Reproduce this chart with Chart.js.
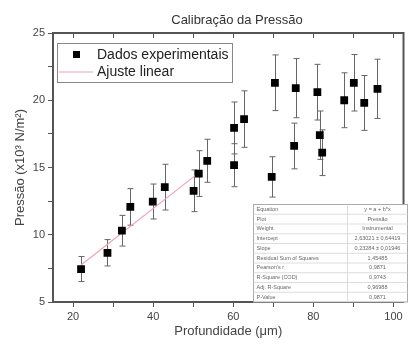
<!DOCTYPE html>
<html>
<head>
<meta charset="utf-8">
<script src="https://cdn.jsdelivr.net/npm/chart.js@4"></script>
<style>
  html, body { margin: 0; padding: 0; background: #fff; }
</style>
</head>
<body>
<canvas id="pressureChart" width="409" height="347"></canvas>
<script>
// data
const depth = [22.0, 28.6, 32.2, 34.3, 39.9, 42.9, 50.1, 51.4, 53.5, 60.2, 60.2, 62.7,
               69.6, 70.4, 75.2, 75.6, 81.0, 81.6, 82.2, 87.7, 90.1, 92.7, 96.0];
const pressure = [7.45, 8.66, 10.3, 12.07, 12.47, 13.54, 13.27, 14.55, 15.5, 17.94, 15.17, 18.6,
                  14.3, 21.3, 16.6, 20.9, 20.6, 17.4, 16.1, 20.0, 21.3, 19.8, 20.85];
const pressureErr = [0.93, 0.98, 1.14, 1.36, 1.3, 1.7, 1.55, 1.7, 1.6, 1.93, 1.6, 2.1,
                     1.5, 2.07, 1.7, 2.2, 2.07, 1.8, 1.7, 2.04, 2.1, 2.04, 2.2];
const fitX = [22, 52];
const fitY = [7.75, 14.75];

const tableRows = [
  ['Equation', 'y = a + b*x'],
  ['Plot', 'Pressão'],
  ['Weight', 'Instrumental'],
  ['Intercept', '2,63021 ± 0,64419'],
  ['Slope', '0,23284 ± 0,01946'],
  ['Residual Sum of Squares', '1,45485'],
  ["Pearson's r", '0,9871'],
  ['R-Square (COD)', '0,9743'],
  ['Adj. R-Square', '0,96988'],
  ['P-Value', '0,9871']
];

const axisColor = '#555';

const decorations = {
  id: 'decorations',
  beforeDatasetsDraw(chart) {
    const ctx = chart.ctx;
    const xs = chart.scales.x, ys = chart.scales.y;
    ctx.save();
    ctx.strokeStyle = '#666';
    ctx.lineWidth = 1;
    depth.forEach((d, i) => {
      const px = Math.round(xs.getPixelForValue(d)) + 0.5;
      const top = ys.getPixelForValue(pressure[i] + pressureErr[i]);
      const bot = ys.getPixelForValue(pressure[i] - pressureErr[i]);
      ctx.beginPath();
      ctx.moveTo(px, top); ctx.lineTo(px, bot);
      ctx.moveTo(px - 3, top); ctx.lineTo(px + 3, top);
      ctx.moveTo(px - 3, bot); ctx.lineTo(px + 3, bot);
      ctx.stroke();
    });
    ctx.restore();
  },
  afterDraw(chart) {
    const ctx = chart.ctx;
    const a = chart.chartArea;
    const xs = chart.scales.x;
    ctx.save();

    // title
    ctx.fillStyle = '#333';
    ctx.font = '13px "Liberation Sans", Arial, sans-serif';
    ctx.textAlign = 'center';
    ctx.textBaseline = 'middle';
    ctx.fillText('Calibração da Pressão', 237, 20);

    // top and right frame
    ctx.strokeStyle = axisColor;
    ctx.lineWidth = 2;
    ctx.beginPath();
    ctx.moveTo(a.left, a.top); ctx.lineTo(a.right, a.top); ctx.lineTo(a.right, a.bottom);
    ctx.stroke();
    ctx.lineWidth = 1;
    xs.ticks.forEach(t => {
      const px = Math.round(xs.getPixelForValue(t.value)) + 0.5;
      ctx.beginPath();
      ctx.moveTo(px, a.top); ctx.lineTo(px, a.top + 5);
      ctx.stroke();
    });

    // legend box
    ctx.fillStyle = '#fff';
    ctx.fillRect(57.5, 43.5, 175, 39);
    ctx.strokeStyle = '#888';
    ctx.lineWidth = 1;
    ctx.strokeRect(57.5, 43.5, 175, 39);
    ctx.fillStyle = '#000';
    ctx.fillRect(73, 51, 7, 7);
    ctx.strokeStyle = '#f0a3b5';
    ctx.lineWidth = 1.2;
    ctx.beginPath();
    ctx.moveTo(59, 72); ctx.lineTo(93, 72);
    ctx.stroke();
    ctx.fillStyle = '#222';
    ctx.font = '14px "Liberation Sans", Arial, sans-serif';
    ctx.textAlign = 'left';
    ctx.fillText('Dados experimentais', 97, 55);
    ctx.fillText('Ajuste linear', 97, 72);

    // fit results table
    const tx = 253.5, ty = 204.5, tw = 154, rh = 9.75, split = 347.5;
    ctx.fillStyle = '#fff';
    ctx.fillRect(tx, ty, tw, rh * tableRows.length);
    ctx.strokeStyle = '#aaa';
    ctx.lineWidth = 1;
    ctx.strokeRect(tx, ty, tw, rh * tableRows.length);
    ctx.beginPath();
    ctx.moveTo(split, ty); ctx.lineTo(split, ty + rh * tableRows.length);
    for (let i = 1; i < tableRows.length; i++) {
      ctx.moveTo(tx, ty + rh * i); ctx.lineTo(tx + tw, ty + rh * i);
    }
    ctx.strokeStyle = '#ddd';
    ctx.stroke();
    ctx.fillStyle = '#666';
    ctx.font = '5.5px "Liberation Sans", Arial, sans-serif';
    tableRows.forEach((r, i) => {
      const cy = ty + rh * i + rh / 2;
      ctx.textAlign = 'left';
      ctx.fillText(r[0], tx + 3, cy);
      ctx.textAlign = 'center';
      ctx.fillText(r[1], (split + tx + tw) / 2, cy);
    });
    ctx.restore();
  }
};

const ctx = document.getElementById('pressureChart').getContext('2d');
new Chart(ctx, {
  type: 'scatter',
  data: {
    datasets: [{
      label: 'Dados experimentais',
      data: depth.map((d, i) => ({ x: d, y: pressure[i] })),
      pointStyle: 'rect',
      pointRadius: 5.5,
      backgroundColor: '#000',
      borderColor: '#000',
      borderWidth: 0,
      order: 1
    }, {
      type: 'line',
      label: 'Ajuste linear',
      data: fitX.map((d, i) => ({ x: d, y: fitY[i] })),
      borderColor: '#f0a3b5',
      borderWidth: 1.2,
      pointRadius: 0,
      fill: false,
      order: 2
    }]
  },
  options: {
    responsive: false,
    animation: false,
    layout: { padding: { top: 33, right: 2, left: 0, bottom: 0 } },
    plugins: {
      legend: { display: false },
      tooltip: { enabled: false }
    },
    scales: {
      x: {
        type: 'linear',
        min: 15,
        max: 102.5,
        afterFit: s => { s.height = 45; },
        border: { color: axisColor, width: 2 },
        grid: { drawOnChartArea: false, drawTicks: true, tickLength: 5, color: axisColor },
        ticks: {
          stepSize: 10,
          includeBounds: false,
          autoSkip: false,
          maxRotation: 0,
          padding: 3,
          color: '#444',
          font: { size: 11, family: '"Liberation Sans", Arial, sans-serif' },
          callback: v => (v % 20 === 0 ? v : '')
        },
        title: {
          display: true,
          text: 'Profundidade (μm)',
          color: '#444',
          font: { size: 13, family: '"Liberation Sans", Arial, sans-serif' },
          padding: { top: 0, bottom: 8 }
        }
      },
      y: {
        type: 'linear',
        min: 5,
        max: 25,
        afterFit: s => { s.width = 53; },
        border: { color: axisColor, width: 2 },
        grid: { drawOnChartArea: false, drawTicks: true, tickLength: 5, color: axisColor },
        ticks: {
          stepSize: 2.5,
          autoSkip: false,
          padding: 3,
          color: '#444',
          font: { size: 11, family: '"Liberation Sans", Arial, sans-serif' },
          callback: v => (v % 5 === 0 ? v : '')
        },
        title: {
          display: true,
          text: 'Pressão (x10³ N/m²)',
          color: '#444',
          font: { size: 13, family: '"Liberation Sans", Arial, sans-serif' },
          padding: { top: 13, bottom: 0 }
        }
      }
    }
  },
  plugins: [decorations]
});
</script>
</body>
</html>
